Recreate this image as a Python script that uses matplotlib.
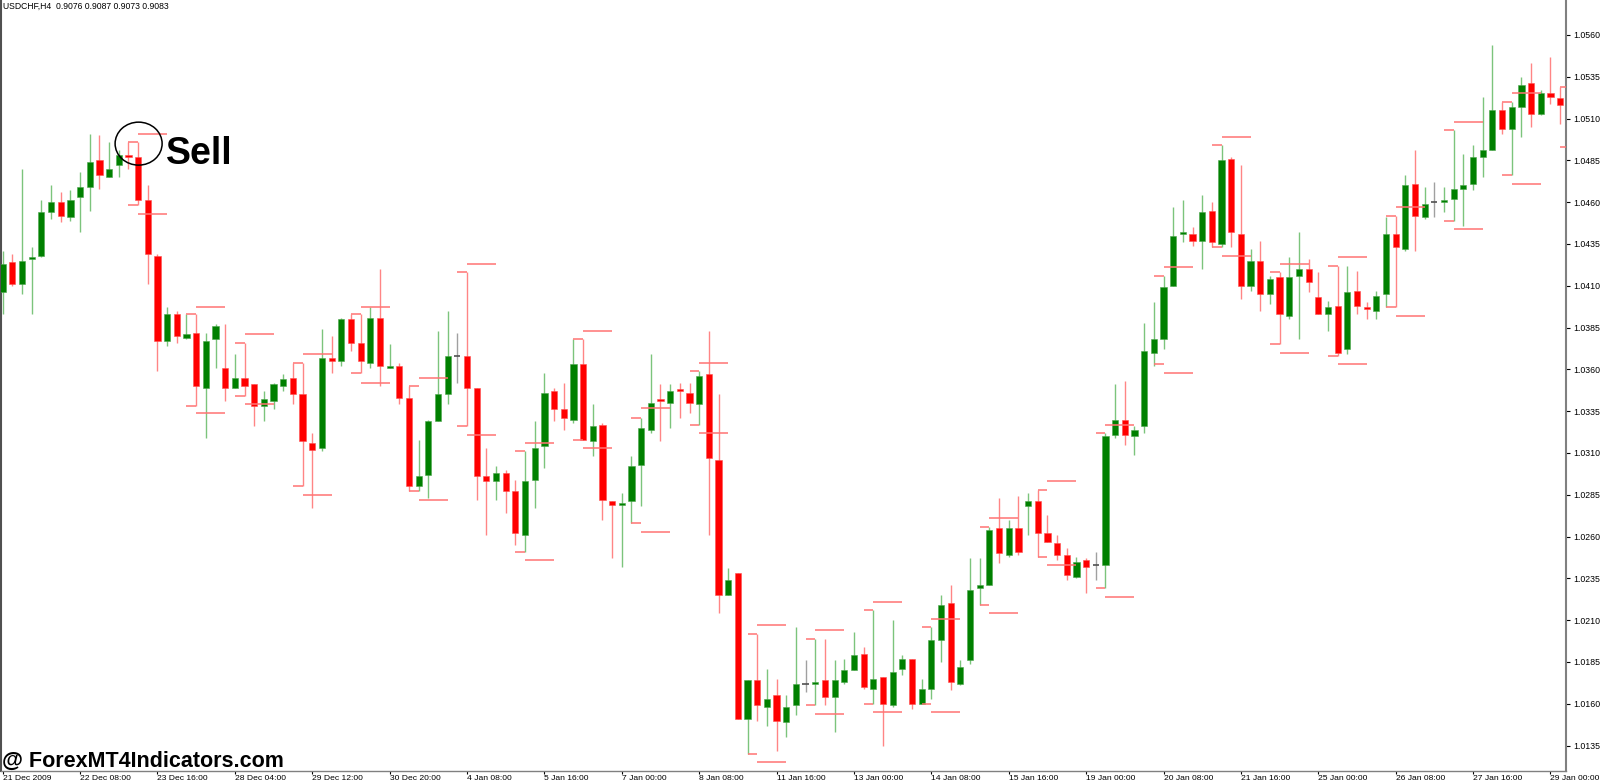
import numpy as np
import matplotlib.pyplot as plt
from matplotlib.patches import Ellipse

plt.rcParams['font.family'] = ['Liberation Sans', 'DejaVu Sans']

# --- USDCHF H4 candles ---
opens = [1.0406, 1.0424, 1.0411, 1.0426, 1.0428, 1.0454, 1.0460, 1.0451, 1.0463, 1.0469,
         1.0485, 1.0475, 1.0482, 1.0488, 1.0487, 1.0461, 1.0428, 1.0377, 1.0393, 1.0379,
         1.0382, 1.0349, 1.0378, 1.0361, 1.0349, 1.0355, 1.0351, 1.0338, 1.0341, 1.0350,
         1.0355, 1.0345, 1.0316, 1.0313, 1.0367, 1.0365, 1.0390, 1.0376, 1.0364, 1.0391,
         1.0361, 1.0362, 1.0343, 1.0290, 1.0297, 1.0329, 1.0345, 1.0368, 1.0368, 1.0349,
         1.0296, 1.0293, 1.0298, 1.0287, 1.0261, 1.0294, 1.0314, 1.0347, 1.0336, 1.0330,
         1.0363, 1.0317, 1.0327, 1.0281, 1.0279, 1.0281, 1.0303, 1.0324, 1.0342, 1.0340,
         1.0348, 1.0346, 1.0339, 1.0357, 1.0306, 1.0225, 1.0238, 1.0151, 1.0174, 1.0158,
         1.0165, 1.0149, 1.0159, 1.0172, 1.0172, 1.0174, 1.0164, 1.0173, 1.0180, 1.0190,
         1.0169, 1.0176, 1.0159, 1.0181, 1.0187, 1.0160, 1.0169, 1.0198, 1.0220, 1.0172,
         1.0186, 1.0229, 1.0231, 1.0265, 1.0249, 1.0265, 1.0278, 1.0281, 1.0262, 1.0256,
         1.0249, 1.0236, 1.0246, 1.0243, 1.0243, 1.0321, 1.0330, 1.0320, 1.0326, 1.0370,
         1.0378, 1.0410, 1.0441, 1.0441, 1.0437, 1.0455, 1.0435, 1.0486, 1.0441, 1.0410,
         1.0425, 1.0405, 1.0415, 1.0392, 1.0416, 1.0420, 1.0403, 1.0393, 1.0398, 1.0372,
         1.0407, 1.0397, 1.0395, 1.0405, 1.0441, 1.0432, 1.0471, 1.0451, 1.0460, 1.0460,
         1.0462, 1.0468, 1.0471, 1.0487, 1.0491, 1.0515, 1.0504, 1.0517, 1.0531, 1.0513,
         1.0525, 1.0522]
highs = [1.0431, 1.0429, 1.0480, 1.0433, 1.0461, 1.0470, 1.0466, 1.0467, 1.0478, 1.0501,
         1.0500, 1.0496, 1.0491, 1.0496, 1.0496, 1.0470, 1.0429, 1.0397, 1.0395, 1.0393,
         1.0393, 1.0382, 1.0387, 1.0387, 1.0369, 1.0376, 1.0351, 1.0347, 1.0352, 1.0357,
         1.0364, 1.0364, 1.0322, 1.0384, 1.0380, 1.0391, 1.0393, 1.0393, 1.0397, 1.0420,
         1.0375, 1.0364, 1.0350, 1.0318, 1.0330, 1.0383, 1.0395, 1.0382, 1.0418, 1.0349,
         1.0313, 1.0302, 1.0300, 1.0294, 1.0311, 1.0329, 1.0358, 1.0349, 1.0352, 1.0378,
         1.0378, 1.0339, 1.0328, 1.0281, 1.0286, 1.0308, 1.0331, 1.0369, 1.0351, 1.0351,
         1.0352, 1.0352, 1.0359, 1.0383, 1.0345, 1.0241, 1.0238, 1.0174, 1.0202, 1.0181,
         1.0175, 1.0165, 1.0206, 1.0186, 1.0199, 1.0199, 1.0186, 1.0187, 1.0203, 1.0194,
         1.0216, 1.0176, 1.0210, 1.0189, 1.0187, 1.0175, 1.0206, 1.0225, 1.0231, 1.0186,
         1.0247, 1.0247, 1.0266, 1.0283, 1.0270, 1.0284, 1.0286, 1.0288, 1.0273, 1.0261,
         1.0253, 1.0248, 1.0247, 1.0251, 1.0322, 1.0351, 1.0353, 1.0326, 1.0388, 1.0400,
         1.0416, 1.0457, 1.0461, 1.0445, 1.0464, 1.0460, 1.0494, 1.0487, 1.0482, 1.0432,
         1.0437, 1.0416, 1.0418, 1.0427, 1.0442, 1.0426, 1.0418, 1.0401, 1.0422, 1.0422,
         1.0419, 1.0400, 1.0407, 1.0451, 1.0452, 1.0476, 1.0491, 1.0469, 1.0472, 1.0469,
         1.0503, 1.0489, 1.0494, 1.0523, 1.0554, 1.0520, 1.0520, 1.0535, 1.0543, 1.0527,
         1.0547, 1.0529]
lows = [1.0393, 1.0410, 1.0405, 1.0393, 1.0427, 1.0450, 1.0448, 1.0449, 1.0442, 1.0455,
        1.0468, 1.0475, 1.0475, 1.0480, 1.0458, 1.0411, 1.0359, 1.0374, 1.0376, 1.0378,
        1.0338, 1.0319, 1.0361, 1.0341, 1.0349, 1.0344, 1.0326, 1.0329, 1.0336, 1.0347,
        1.0339, 1.0290, 1.0277, 1.0311, 1.0358, 1.0362, 1.0371, 1.0358, 1.0361, 1.0350,
        1.0361, 1.0339, 1.0287, 1.0287, 1.0283, 1.0329, 1.0339, 1.0352, 1.0326, 1.0282,
        1.0261, 1.0282, 1.0274, 1.0255, 1.0251, 1.0277, 1.0301, 1.0329, 1.0324, 1.0328,
        1.0318, 1.0308, 1.0270, 1.0247, 1.0242, 1.0268, 1.0278, 1.0322, 1.0317, 1.0325,
        1.0331, 1.0334, 1.0327, 1.0261, 1.0214, 1.0225, 1.0151, 1.0130, 1.0150, 1.0147,
        1.0132, 1.0140, 1.0153, 1.0167, 1.0159, 1.0159, 1.0143, 1.0172, 1.0180, 1.0169,
        1.0160, 1.0135, 1.0158, 1.0177, 1.0157, 1.0160, 1.0163, 1.0185, 1.0168, 1.0171,
        1.0184, 1.0219, 1.0231, 1.0244, 1.0248, 1.0249, 1.0261, 1.0248, 1.0257, 1.0246,
        1.0234, 1.0235, 1.0226, 1.0234, 1.0229, 1.0319, 1.0315, 1.0309, 1.0322, 1.0362,
        1.0372, 1.0410, 1.0436, 1.0434, 1.0420, 1.0433, 1.0433, 1.0433, 1.0402, 1.0407,
        1.0395, 1.0399, 1.0375, 1.0390, 1.0378, 1.0406, 1.0393, 1.0383, 1.0368, 1.0369,
        1.0393, 1.0390, 1.0390, 1.0397, 1.0397, 1.0431, 1.0431, 1.0450, 1.0451, 1.0454,
        1.0449, 1.0446, 1.0467, 1.0475, 1.0491, 1.0501, 1.0476, 1.0499, 1.0505, 1.0512,
        1.0519, 1.0507]
closes = [1.0423, 1.0411, 1.0425, 1.0427, 1.0454, 1.0460, 1.0452, 1.0461, 1.0469, 1.0484,
          1.0476, 1.0480, 1.0488, 1.0487, 1.0461, 1.0429, 1.0377, 1.0393, 1.0380, 1.0381,
          1.0350, 1.0377, 1.0386, 1.0349, 1.0355, 1.0350, 1.0338, 1.0342, 1.0351, 1.0354,
          1.0345, 1.0317, 1.0312, 1.0367, 1.0365, 1.0390, 1.0376, 1.0365, 1.0391, 1.0362,
          1.0362, 1.0343, 1.0290, 1.0296, 1.0329, 1.0345, 1.0368, 1.0368, 1.0349, 1.0296,
          1.0293, 1.0298, 1.0287, 1.0262, 1.0293, 1.0313, 1.0346, 1.0336, 1.0331, 1.0363,
          1.0318, 1.0326, 1.0282, 1.0279, 1.0280, 1.0302, 1.0325, 1.0340, 1.0341, 1.0347,
          1.0347, 1.0340, 1.0356, 1.0307, 1.0225, 1.0234, 1.0151, 1.0174, 1.0159, 1.0163,
          1.0150, 1.0158, 1.0172, 1.0172, 1.0173, 1.0164, 1.0174, 1.0180, 1.0189, 1.0170,
          1.0175, 1.0160, 1.0179, 1.0187, 1.0160, 1.0169, 1.0198, 1.0219, 1.0173, 1.0182,
          1.0228, 1.0231, 1.0264, 1.0250, 1.0265, 1.0251, 1.0281, 1.0262, 1.0257, 1.0249,
          1.0237, 1.0245, 1.0242, 1.0243, 1.0320, 1.0330, 1.0321, 1.0324, 1.0371, 1.0378,
          1.0409, 1.0440, 1.0442, 1.0437, 1.0454, 1.0436, 1.0485, 1.0442, 1.0410, 1.0425,
          1.0405, 1.0414, 1.0393, 1.0415, 1.0420, 1.0412, 1.0393, 1.0397, 1.0370, 1.0406,
          1.0398, 1.0396, 1.0404, 1.0441, 1.0433, 1.0470, 1.0452, 1.0459, 1.0460, 1.0461,
          1.0468, 1.0470, 1.0487, 1.0491, 1.0515, 1.0504, 1.0517, 1.0530, 1.0513, 1.0525,
          1.0523, 1.0518]

# indicator levels: short marks (bar-1 -> bar) and 3-bar lines (bar -> bar+3)
sig_bar = [14, 20, 25, 31, 37, 43, 48, 54, 60, 66, 72, 78, 84, 90, 96, 102, 108,
           114, 120, 126, 132, 138, 144, 150, 156, 162]
sig_hi = [1.0496, 1.0393, 1.0376, 1.0364, 1.0393, 1.0350, 1.0418, 1.0311, 1.0378,
          1.0331, 1.0359, 1.0202, 1.0199, 1.0216, 1.0206, 1.0266, 1.0288, 1.0322,
          1.0416, 1.0494, 1.0418, 1.0422, 1.0452, 1.0503, 1.0520, 1.0529]
sig_lo = [1.0458, 1.0338, 1.0344, 1.0290, 1.0358, 1.0287, 1.0326, 1.0251, 1.0318,
          1.0268, 1.0327, 1.0130, 1.0159, 1.0160, 1.0160, 1.0219, 1.0248, 1.0229,
          1.0363, 1.0433, 1.0375, 1.0368, 1.0397, 1.0449, 1.0476, 1.0493]
lvl_hi = [1.0501, 1.0397, 1.0381, 1.0369, 1.0397, 1.0355, 1.0423, 1.0316, 1.0383,
          1.0337, 1.0364, 1.0207, 1.0204, 1.0221, 1.0211, 1.0271, 1.0293, 1.0327,
          1.0421, 1.0499, 1.0423, 1.0427, 1.0457, 1.0508, 1.0525, 1.0534]
lvl_lo = [1.0453, 1.0334, 1.0339, 1.0285, 1.0352, 1.0282, 1.0321, 1.0246, 1.0313,
          1.0263, 1.0322, 1.0125, 1.0154, 1.0155, 1.0155, 1.0214, 1.0243, 1.0224,
          1.0358, 1.0428, 1.0370, 1.0363, 1.0392, 1.0444, 1.0471, 1.0488]

time_labels = ['21 Dec 2009', '22 Dec 08:00', '23 Dec 16:00', '28 Dec 04:00', '29 Dec 12:00',
               '30 Dec 20:00', '4 Jan 08:00', '5 Jan 16:00', '7 Jan 00:00', '8 Jan 08:00',
               '11 Jan 16:00', '13 Jan 00:00', '14 Jan 08:00', '15 Jan 16:00', '19 Jan 00:00',
               '20 Jan 08:00', '21 Jan 16:00', '25 Jan 00:00', '26 Jan 08:00', '27 Jan 16:00',
               '29 Jan 00:00']
bars_per_label = 8
price_labels = ['1.0135', '1.0160', '1.0185', '1.0210', '1.0235', '1.0260', '1.0285',
                '1.0310', '1.0335', '1.0360', '1.0385', '1.0410', '1.0435', '1.0460',
                '1.0485', '1.0510', '1.0535', '1.0560']

sell_bar = 14
sell_price = 1.0495

# --- colours ---
bull, bear = '#008000', '#ff0000'
bull_wick, bear_wick = '#7cc47c', '#ff8585'
level_col = '#ff7373'

o = np.array(opens)
h = np.array(highs)
l = np.array(lows)
c = np.array(closes)
x = np.arange(len(o))
up = c > o
dn = c < o
flat = c == o

fig = plt.figure(figsize=(16, 7.84), dpi=100)
# plot area: x 0..1566 px, y 0..771 px of the 1600x784 canvas
ax = fig.add_axes([0.0006, 13 / 784, 0.9781, 1 - 13 / 784])

# wicks
ax.vlines(x[up], l[up], h[up], color=bull_wick, lw=1.0, zorder=2)
ax.vlines(x[dn], l[dn], h[dn], color=bear_wick, lw=1.0, zorder=2)
ax.vlines(x[flat], l[flat], h[flat], color='#a0a0a0', lw=1.0, zorder=2)

# bodies
body_w = 0.64
min_h = 0.00006
ax.bar(x[up], np.maximum(c - o, min_h)[up], bottom=o[up], width=body_w,
       color=bull, edgecolor='#4ca64c', linewidth=0.4, zorder=3)
ax.bar(x[dn], np.maximum(o - c, min_h)[dn], bottom=c[dn], width=body_w,
       color=bear, edgecolor='#ff5050', linewidth=0.4, zorder=3)
ax.hlines(o[flat], x[flat] - body_w / 2, x[flat] + body_w / 2, color='#505050',
          lw=1.2, zorder=3)

# indicator lines
for m, th, tl, lh, ll in zip(sig_bar, sig_hi, sig_lo, lvl_hi, lvl_lo):
    ax.hlines([th, tl], m - 1, m, color=level_col, lw=1.1, zorder=4)
    ax.hlines([lh, ll], m, m + 3, color=level_col, lw=1.1, zorder=4)

# "Sell" mark
ax.add_patch(Ellipse((sell_bar + 0.05, sell_price), width=4.86, height=0.00257,
                     fill=False, ec='black', lw=1.1, zorder=5))
ax.text(sell_bar + 2.9, sell_price - 0.0012, 'Sell', fontsize=27, fontweight='bold',
        va='baseline', ha='left', color='black', zorder=6)

# axes limits / scales
ax.set_xlim(-0.18, 161.6)
ax.set_ylim(1.01198, 1.05809)

ax.set_xticks(np.arange(len(time_labels)) * bars_per_label)
ax.set_xticklabels(time_labels, fontsize=6.1, ha='left')
ax.set_yticks([float(p) for p in price_labels])
ax.set_yticklabels(price_labels, fontsize=6.3)

ax.yaxis.tick_right()
ax.tick_params(axis='x', direction='out', length=2.5, pad=0.5, colors='black')
ax.tick_params(axis='y', direction='out', length=3, pad=2, colors='black',
               right=True, left=False, labelright=True, labelleft=False)
for lab in ax.get_xticklabels():
    lab.set_horizontalalignment('left')

ax.spines['top'].set_visible(False)
ax.spines['left'].set_color('#505050')
ax.spines['left'].set_linewidth(1.5)
ax.spines['right'].set_color('#808080')
ax.spines['right'].set_linewidth(1.5)
ax.spines['bottom'].set_color('#808080')
ax.spines['bottom'].set_linewidth(1.0)

# header and watermark
fig.text(0.0019, 1 - 6.5 / 784, 'USDCHF,H4  0.9076 0.9087 0.9073 0.9083',
         fontsize=6.2, va='center', ha='left', color='black')
fig.text(2 / 1600, 17 / 784, '@ ForexMT4Indicators.com', fontsize=15.5,
         fontweight='bold', va='baseline', ha='left', color='black')

fig.savefig('out.png', dpi=100, facecolor='white')
